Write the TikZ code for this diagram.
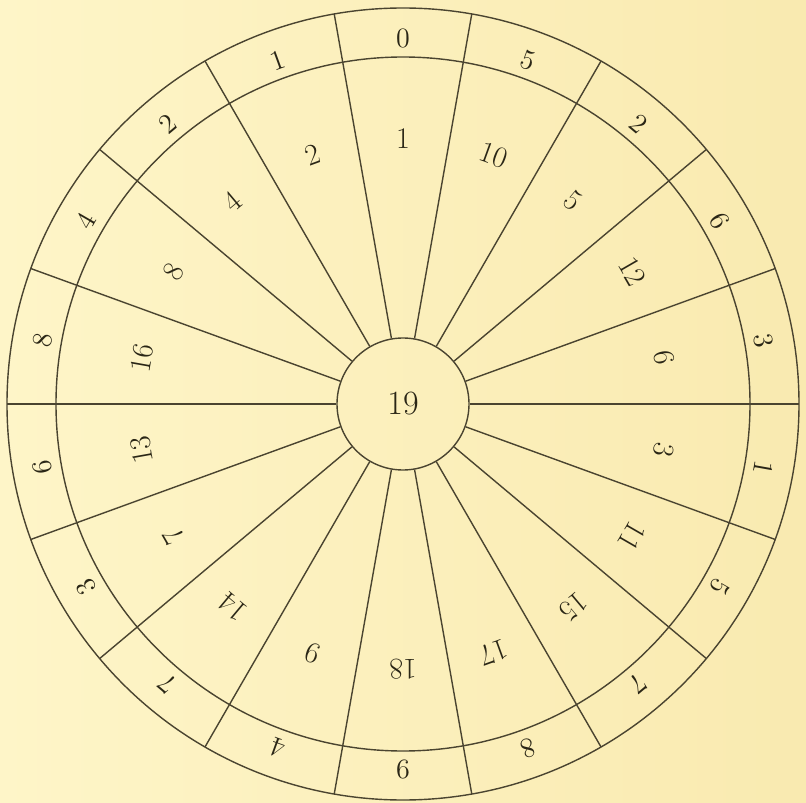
\documentclass[tikz,border=0pt]{standalone}
\usepackage{xcolor}
\usetikzlibrary{positioning}
\definecolor{paperl}{HTML}{FEF5C8}
\definecolor{paperr}{HTML}{F9EAB0}
\definecolor{ink}{HTML}{4A4430}
\definecolor{type}{HTML}{2A2616}

\begin{document}
\begin{tikzpicture}[
  x=0.5pt, y=0.5pt,
  rim/.style={draw=ink, line width=0.7pt},
  spoke/.style={draw=ink, line width=0.7pt},
  digit/.style={text=type, inner sep=0pt, font=\fontsize{14}{16}\selectfont},
  power/.style={digit, font=\fontsize{15}{17}\selectfont},
  hubc/.style={circle, rim, minimum size=66pt, inner sep=0pt, text=type, font=\fontsize{17}{19}\selectfont}]
  \shade[left color=paperl, right color=paperr] (-403,-398) rectangle (403,404);
  \useasboundingbox (-403,-398) rectangle (403,404);
  \node[hubc] (hub) at (0,0) {19};
  \draw[rim] (hub.center) circle[radius=396];
  \draw[rim] (hub.center) circle[radius=347];
  \foreach \a in {0,20,...,340} \draw[spoke] (hub.\a) -- (\a:396);
  \foreach \o/\n [count=\i from 0] in {0/1, 5/10, 2/5, 6/12, 3/6, 1/3, 5/11, 7/15, 8/17,
      9/18, 4/9, 7/14, 3/7, 6/13, 8/16, 4/8, 2/4, 1/2} {
    \pgfmathsetmacro\ang{90-20*\i}
    \node[digit, rotate=\ang-90] (dec\i) at (\ang:366) {\o};
    \node[power, rotate=\ang-90] (pow\i) at (\ang:265) {\n};
  }
\end{tikzpicture}
\end{document}
